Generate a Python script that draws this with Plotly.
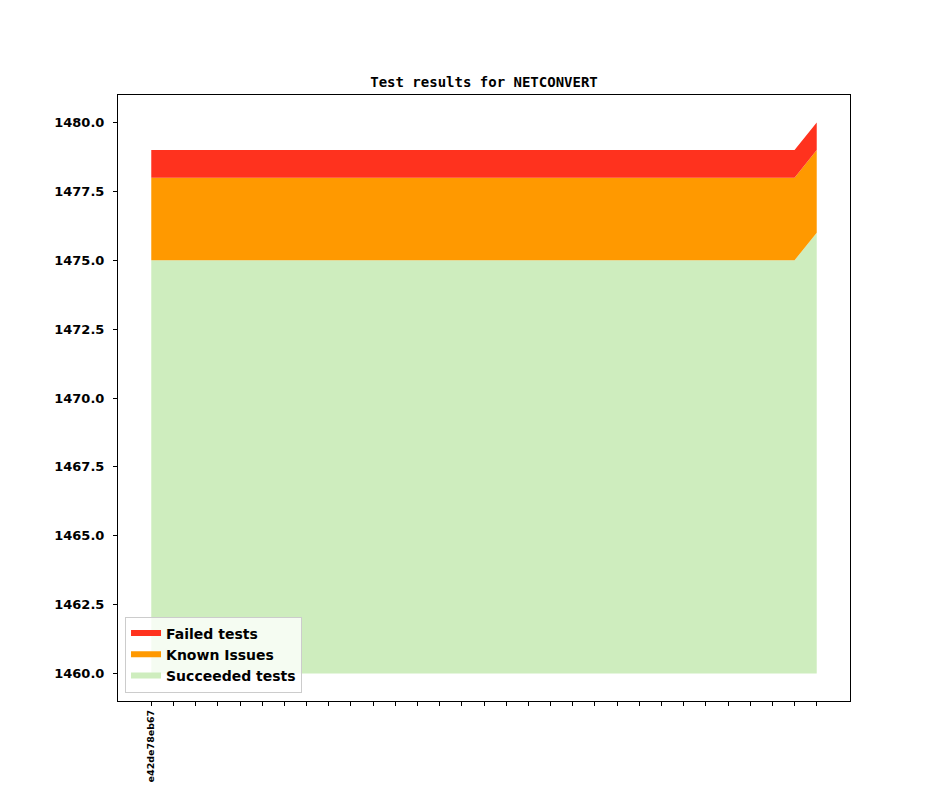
import plotly.graph_objs as go

# one entry per revision; only the first label is shown on the axis
revisions = list(range(31))
tick_labels = ["e42de78eb67"] + [""] * 30
succeeded = [1475] * 30 + [1476]
known_issues = [3] * 31
failed = [1] * 31
baseline = 1460

known_top = [s + k for s, k in zip(succeeded, known_issues)]
failed_top = [t + f for t, f in zip(known_top, failed)]

fig = go.Figure()

fig.add_trace(go.Scatter(
    x=revisions, y=[baseline] * len(revisions),
    mode='lines', line=dict(width=0, color='rgba(0,0,0,0)'),
    showlegend=False, hoverinfo='skip',
))
fig.add_trace(go.Scatter(
    x=revisions, y=succeeded, name='Succeeded tests',
    mode='none', fill='tonexty', fillcolor='#ceedbe',
))
fig.add_trace(go.Scatter(
    x=revisions, y=known_top, name='Known Issues',
    mode='none', fill='tonexty', fillcolor='#ff9900',
))
fig.add_trace(go.Scatter(
    x=revisions, y=failed_top, name='Failed tests',
    mode='none', fill='tonexty', fillcolor='#ff321e',
))

fig.update_layout(
    width=944, height=787,
    margin=dict(l=110, r=102, t=87, b=94),
    paper_bgcolor='white', plot_bgcolor='white',
    title=dict(
        text='<b>Test results for NETCONVERT</b>',
        font=dict(family='DejaVu Sans Mono', size=14, color='black'),
        x=0.5, xanchor='center', xref='paper',
        y=1 - 74 / 787, yanchor='middle', yref='container',
    ),
    showlegend=True,
    legend=dict(
        x=0.0096, y=0.014, xanchor='left', yanchor='bottom',
        traceorder='reversed',
        bgcolor='rgba(255,255,255,0.8)', bordercolor='#cccccc', borderwidth=1,
        font=dict(family='DejaVu Sans', size=14, color='black', weight='bold'),
        tracegroupgap=0,
    ),
    font=dict(family='DejaVu Sans', color='black'),
)

fig.update_xaxes(
    range=[-1.5, 31.5],
    tickmode='array', tickvals=revisions, ticktext=tick_labels,
    tickangle=-90, tickfont=dict(family='DejaVu Sans', size=9.5, color='black', weight='bold'),
    ticks='outside', ticklen=4, tickcolor='black',
    showgrid=False, zeroline=False,
    showline=True, linecolor='black', linewidth=1, mirror=True,
)
fig.update_yaxes(
    range=[1459, 1481],
    tick0=1460, dtick=2.5, tickformat='.1f',
    tickfont=dict(family='DejaVu Sans', size=13, color='black', weight='bold'),
    ticks='outside', ticklen=4, tickcolor='black', ticklabelstandoff=6,
    showgrid=False, zeroline=False,
    showline=True, linecolor='black', linewidth=1, mirror=True,
)

fig.write_html("out.html")
